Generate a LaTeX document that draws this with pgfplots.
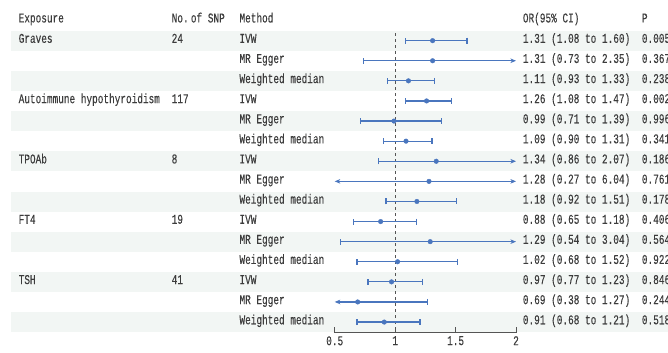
\documentclass[border=0pt]{standalone}
\usepackage{pgfplots}
\pgfplotsset{compat=1.18}
\usepackage{fontspec}
\usetikzlibrary{arrows.meta}
\newfontfamily\cn[FakeStretch=0.70,FakeBold=0.15]{Liberation Mono}
\definecolor{txt}{HTML}{3C3C3C}
\definecolor{ciblue}{HTML}{4A76BE}
\definecolor{band}{HTML}{F2F6F4}
\definecolor{axisgray}{HTML}{555555}
\newcommand\tf{\cn\fontsize{13.5}{15}\selectfont}
\begin{document}
\begin{tikzpicture}[x=1bp,y=1bp,font=\tf,
  tx/.style={anchor=mid west,inner sep=0pt,text=txt}]
\useasboundingbox (0,0) rectangle (668,-352);
\clip (0,0) rectangle (668,-352);
% shaded bands
\foreach \i in {1,3,...,15}{
  \fill[band] (11,{-(40.7+(\i-1)*20.1-10)}) rectangle (668,{-(40.7+(\i-1)*20.1+10)});
}
\begin{axis}[at={(334.7bp,-332.7bp)},anchor=south west,scale only axis,
  width=181.3bp,height=302.1bp,
  xmin=0.5,xmax=2,ymin=-15.53,ymax=-0.5,
  axis y line=none,axis x line*=bottom,
  x axis line style={-,draw=axisgray,line width=0.8bp},
  xtick={0.5,1,1.5,2},xticklabels={0.5,1,1.5,2},
  tick align=inside,major tick length=6bp,
  tick style={axisgray,line width=0.8bp},
  xticklabel style={font=\tf,text=txt},
  /pgf/number format/assume math mode=true,
  clip=false,
  ci/.style={ciblue,line width=1.2bp},
  cc/.style={ci,arrows={Bar[width=6bp]-Bar[width=6bp]}},
  ca/.style={ci,arrows={Bar[width=6bp]-Stealth[length=5.5bp,width=4.5bp,inset=1.5bp]}},
  ac/.style={ci,arrows={Stealth[length=5.5bp,width=4.5bp,inset=1.5bp]-Bar[width=6bp]}},
  aa/.style={ci,arrows={Stealth[length=5.5bp,width=4.5bp,inset=1.5bp]-Stealth[length=5.5bp,width=4.5bp,inset=1.5bp]}},
]
\addplot[axisgray,line width=0.9bp,dash pattern=on 3bp off 3bp] coordinates {(1,-0.62) (1,-15.53)};
\addplot[cc] coordinates {(1.08,-1) (1.60,-1)};
\addplot[ca] coordinates {(0.73,-2) (2.00,-2)};
\addplot[cc] coordinates {(0.93,-3) (1.33,-3)};
\addplot[cc] coordinates {(1.08,-4) (1.47,-4)};
\addplot[cc] coordinates {(0.71,-5) (1.39,-5)};
\addplot[cc] coordinates {(0.90,-6) (1.31,-6)};
\addplot[ca] coordinates {(0.86,-7) (2.00,-7)};
\addplot[aa] coordinates {(0.50,-8) (2.00,-8)};
\addplot[cc] coordinates {(0.92,-9) (1.51,-9)};
\addplot[cc] coordinates {(0.65,-10) (1.18,-10)};
\addplot[ca] coordinates {(0.54,-11) (2.00,-11)};
\addplot[cc] coordinates {(0.68,-12) (1.52,-12)};
\addplot[cc] coordinates {(0.77,-13) (1.23,-13)};
\addplot[ac] coordinates {(0.50,-14) (1.27,-14)};
\addplot[cc] coordinates {(0.68,-15) (1.21,-15)};
\addplot[only marks,mark=*,mark size=2.3bp,ciblue] table {
x y
1.31 -1
1.31 -2
1.11 -3
1.26 -4
0.99 -5
1.09 -6
1.34 -7
1.28 -8
1.18 -9
0.88 -10
1.29 -11
1.02 -12
0.97 -13
0.69 -14
0.91 -15
};
\end{axis}
% headers
\node[tx] at (18.5,-20.3) {Exposure};
\node[tx] at (171.5,-20.3) {No.\,of SNP};
\node[tx] at (239.3,-20.3) {Method};
\node[tx] at (522.7,-20.3) {OR(95\% CI)};
\node[tx] at (641.7,-20.3) {P};
% exposures
\foreach \i/\e/\n in {1/Graves/24,4/Autoimmune hypothyroidism/117,7/TPOAb/8,10/FT4/19,13/TSH/41}{
  \node[tx] at (18.5,{-(40.7+(\i-1)*20.1)}) {\e};
  \node[tx] at (171.5,{-(40.7+(\i-1)*20.1)}) {\n};
}
% methods
\foreach \i in {1,4,7,10,13}{
  \node[tx] at (239.3,{-(40.7+(\i-1)*20.1)}) {IVW};
  \node[tx] at (239.3,{-(40.7+\i*20.1)}) {MR Egger};
  \node[tx] at (239.3,{-(40.7+(\i+1)*20.1)}) {Weighted median};
}
% OR and P
\foreach \i/\o/\p in {
 1/{1.31 (1.08 to 1.60)}/0.005,
 2/{1.31 (0.73 to 2.35)}/0.367,
 3/{1.11 (0.93 to 1.33)}/0.238,
 4/{1.26 (1.08 to 1.47)}/0.002,
 5/{0.99 (0.71 to 1.39)}/0.996,
 6/{1.09 (0.90 to 1.31)}/0.341,
 7/{1.34 (0.86 to 2.07)}/0.186,
 8/{1.28 (0.27 to 6.04)}/0.761,
 9/{1.18 (0.92 to 1.51)}/0.178,
 10/{0.88 (0.65 to 1.18)}/0.406,
 11/{1.29 (0.54 to 3.04)}/0.564,
 12/{1.02 (0.68 to 1.52)}/0.922,
 13/{0.97 (0.77 to 1.23)}/0.846,
 14/{0.69 (0.38 to 1.27)}/0.244,
 15/{0.91 (0.68 to 1.21)}/0.518}{
  \node[tx] at (522.7,{-(40.7+(\i-1)*20.1)}) {\o};
  \node[tx] at (641.7,{-(40.7+(\i-1)*20.1)}) {\p};
}
\end{tikzpicture}
\end{document}
